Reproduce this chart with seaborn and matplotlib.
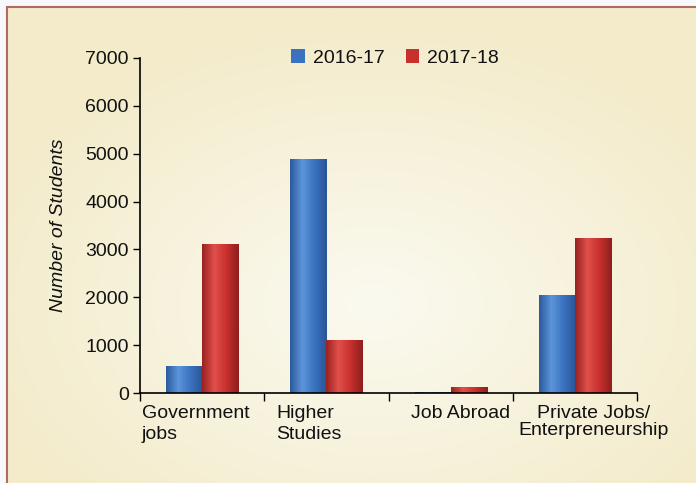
import numpy as np
import pandas as pd
import matplotlib
matplotlib.use("Agg")
import matplotlib.pyplot as plt
import seaborn as sns
from matplotlib.colors import LinearSegmentedColormap, to_rgb
from matplotlib.patches import Rectangle

categories = ["Government jobs", "Higher Studies", "Job Abroad", "Private Jobs/ Enterpreneurship"]
display_labels = ["Government\njobs", "Higher\nStudies", "Job Abroad", "Private Jobs/\nEnterpreneurship"]
series = ["2016-17", "2017-18"]
values_2016_17 = [570, 4880, 30, 2040]
values_2017_18 = [3120, 1100, 130, 3230]
yticks = [0, 1000, 2000, 3000, 4000, 5000, 6000, 7000]

df = pd.DataFrame({
    "category": categories * 2,
    "year": [series[0]] * 4 + [series[1]] * 4,
    "students": values_2016_17 + values_2017_18,
})

sns.set_style("white")
plt.rcParams["font.family"] = ["Liberation Sans", "DejaVu Sans"]
FS = 14

W, H = 696, 483
fig = plt.figure(figsize=(W / 100, H / 100), dpi=100)
fig.patch.set_facecolor("#F7F8FC")

# background panel with radial gradient
bg = fig.add_axes([7 / W, 0, (W - 7) / W, (H - 7) / H])
bg.set_axis_off()
yy, xx = np.mgrid[0:200, 0:300]
cx, cy = 0.53 * 300, 0.62 * 200
r = np.sqrt(((xx - cx) / 300) ** 2 + ((yy - cy) / 200) ** 2)
r = np.clip(r / 0.6, 0, 1)
c_in = np.array(to_rgb("#FBFAF0"))
c_out = np.array(to_rgb("#F3EBCA"))
img = c_in[None, None, :] * (1 - r[..., None]) + c_out[None, None, :] * r[..., None]
bg.imshow(img, aspect="auto", extent=[0, 1, 0, 1], origin="upper")
bg.set_xlim(0, 1)
bg.set_ylim(0, 1)
fig.add_artist(Rectangle((7 / W, -0.01), 1.0, (H - 7) / H + 0.01, transform=fig.transFigure,
                         fill=False, edgecolor="#B06A5E", linewidth=1.5))

ax = fig.add_axes([140 / W, 1 - 393 / H, (637 - 140) / W, (393 - 58) / H])
ax.patch.set_alpha(0)

palette = {"2016-17": "#3A72C0", "2017-18": "#C8302D"}
sns.barplot(data=df, x="category", y="students", hue="year", order=categories,
            hue_order=series, palette=palette, width=0.58, ax=ax, saturation=1,
            edgecolor="none", legend=True)

# pseudo-3D shading on bars
grad_cols = {
    "2016-17": ["#2C5A9E", "#5C95DA", "#3A72C0", "#2A5596"],
    "2017-18": ["#9A2220", "#E0504A", "#C8302D", "#8E1F1D"],
}
bars = [p for p in ax.patches if p.get_height() > 0 or p.get_width() > 0][:8]
for i, p in enumerate(bars):
    yr = series[i // 4]
    cmap = LinearSegmentedColormap.from_list("g", grad_cols[yr])
    x0, w, h = p.get_x(), p.get_width(), p.get_height()
    if h <= 0:
        continue
    grad = np.linspace(0, 1, 64)[None, :]
    im = ax.imshow(grad, cmap=cmap, aspect="auto", extent=[x0, x0 + w, 0, h],
                   origin="lower", zorder=p.get_zorder() + 0.1)
    im.set_clip_path(p)

ax.set_xlim(-0.5, 3.5)
ax.set_ylim(0, 7000)
ax.set_yticks(yticks)
ax.set_yticklabels([str(t) for t in yticks], fontsize=FS, color="#111111")
ax.set_xticks([-0.5, 0.5, 1.5, 2.5, 3.5])
ax.set_xticklabels([])
ax.tick_params(axis="y", direction="out", length=5, width=1, color="black", pad=3, left=True)
ax.tick_params(axis="x", direction="out", length=6, width=1, color="black", bottom=True)
for s in ["top", "right"]:
    ax.spines[s].set_visible(False)
for s in ["left", "bottom"]:
    ax.spines[s].set_color("black")
    ax.spines[s].set_linewidth(1.2)
ax.set_xlabel("")
ax.set_ylabel("Number of Students", fontsize=FS, style="italic", labelpad=13, color="#111111")

# category labels
label_pos = [(-0.484, "left"), (0.597, "left"), (1.685, "left"), (3.153, "center")]
for lab, (xp, ha) in zip(display_labels, label_pos):
    ax.text(xp, -0.035, lab, transform=ax.get_xaxis_transform(), ha=ha, va="top",
            fontsize=FS, color="#111111", multialignment="center" if ha == "center" else "left",
            linespacing=1.3 if ha == "left" else 1.05)

leg = ax.legend(loc="center", bbox_to_anchor=(0.513, 1.0), ncol=2, frameon=False,
                fontsize=FS, handlelength=0.7, handleheight=0.7, handletextpad=0.4,
                columnspacing=1.1)
for t in leg.get_texts():
    t.set_color("#111111")

fig.savefig("out.png", dpi=100, facecolor=fig.get_facecolor())
